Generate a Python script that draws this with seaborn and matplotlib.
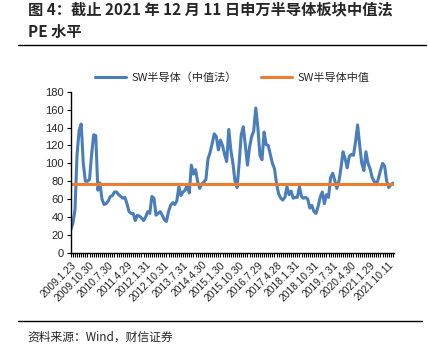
import matplotlib
matplotlib.use("Agg")
import matplotlib.pyplot as plt
import seaborn as sns
import pandas as pd
import numpy as np

# ---- data ----
pe_values = [
    26, 33, 48, 110, 137, 144, 100, 80, 80, 82,
    110, 132, 131, 70, 78, 60, 54, 55, 58, 63,
    64, 68, 68, 65, 63, 61, 62, 55, 46, 44,
    44, 36, 42, 41, 39, 36, 40, 46, 44, 63,
    61, 42, 44, 46, 42, 37, 35, 46, 53, 56,
    54, 58, 74, 64, 68, 70, 76, 67, 98, 88,
    93, 80, 72, 77, 79, 82, 105, 112, 122, 133,
    130, 115, 126, 120, 110, 102, 138, 115, 100, 80,
    73, 100, 132, 141, 120, 98, 118, 130, 136, 162,
    140, 109, 104, 135, 121, 120, 110, 100, 94, 77,
    66, 61, 59, 62, 74, 65, 69, 61, 62, 62,
    74, 63, 61, 62, 60, 50, 53, 46, 44, 52,
    62, 68, 55, 65, 62, 84, 89, 81, 72, 80,
    95, 113, 105, 95, 108, 110, 109, 124, 143, 120,
    100, 92, 113, 100, 94, 84, 80, 76, 83, 92,
    100, 97, 80, 73, 76, 78,
]
median_value = 76.5
tick_labels = [
    "2009.1.23", "2009.10.30", "2010.7.30", "2011.4.29", "2012.1.31",
    "2012.10.31", "2013.7.31", "2014.4.30", "2015.1.30", "2015.10.30",
    "2016.7.29", "2017.4.28", "2018.1.31", "2018.10.31", "2019.7.31",
    "2020.4.30", "2021.1.29", "2021.10.11",
]
tick_step = 9
series_names = ["SW半导体（中值法）", "SW半导体中值"]

n = len(pe_values)
df = pd.DataFrame({
    "idx": np.arange(n),
    series_names[0]: pe_values,
    series_names[1]: [median_value] * n,
})
long = df.melt(id_vars="idx", var_name="series", value_name="value")

sns.set_style("white")
plt.rcParams["font.family"] = ["Noto Sans CJK SC", "DejaVu Sans"]
plt.rcParams["axes.unicode_minus"] = False

fig = plt.figure(figsize=(4.28, 3.56), dpi=100)
ax = fig.add_axes([0.165, 0.290, 0.756, 0.452])

sns.lineplot(data=long, x="idx", y="value", hue="series",
             palette=["#4a7ebb", "#ed7d31"], linewidth=2.2, ax=ax, legend=True)

ax.set_xlim(-0.1, n - 0.4)
ax.set_ylim(0, 180)
ax.set_yticks(range(0, 181, 20))
ax.set_xticks(range(0, n, tick_step))
ax.set_xticklabels(tick_labels, rotation=45, ha="right", rotation_mode="anchor",
                   fontsize=7.4, family=["Liberation Sans", "DejaVu Sans"])
ax.set_xticks(np.arange(0, n), minor=True)
ax.tick_params(axis="x", which="both", direction="out", length=3, width=0.8,
               color="black", pad=2, bottom=True)
ax.tick_params(axis="y", direction="out", length=3, width=0.8, color="black",
               labelsize=8, pad=2, left=True)
for lab in ax.get_yticklabels():
    lab.set_family(["Liberation Sans", "DejaVu Sans"])
ax.set_xlabel("")
ax.set_ylabel("")
for s in ["top", "right"]:
    ax.spines[s].set_visible(False)
for s in ["left", "bottom"]:
    ax.spines[s].set_color("black")
    ax.spines[s].set_linewidth(1.0)

handles, labels = ax.get_legend_handles_labels()
ax.legend(handles, labels, loc="lower center", bbox_to_anchor=(0.5, 1.03),
          ncol=2, frameon=False, fontsize=8, handlelength=2.8,
          columnspacing=2.2, handletextpad=0.5, borderaxespad=0)

# title
fig.text(0.065, 0.975, "图 4：截止 2021 年 12 月 11 日申万半导体板块中值法",
         fontsize=11, fontweight="bold", ha="left", va="center")
fig.text(0.065, 0.909, "PE 水平", fontsize=11, fontweight="bold",
         ha="left", va="center")
fig.add_artist(plt.Line2D([0.042, 0.995], [0.874, 0.874], color="black",
                          linewidth=1.0, transform=fig.transFigure))
fig.add_artist(plt.Line2D([0.042, 0.985], [0.097, 0.097], color="black",
                          linewidth=1.0, transform=fig.transFigure))
fig.text(0.065, 0.052, "资料来源：Wind，财信证券", fontsize=8.5, style="italic",
         ha="left", va="center")

fig.savefig("out.png", dpi=100)
